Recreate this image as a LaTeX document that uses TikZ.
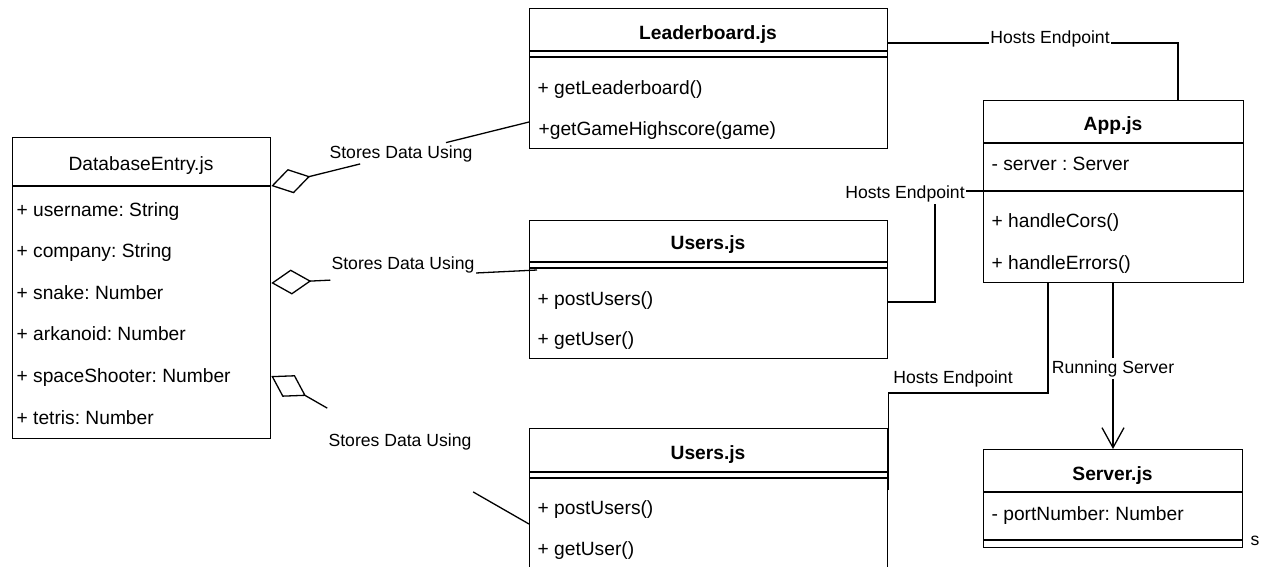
\documentclass[tikz,border=0pt]{standalone}
\usepackage{fontspec}
\setmainfont{Liberation Sans}
\usetikzlibrary{arrows.meta,calc}
\frenchspacing
\begin{document}
\begin{tikzpicture}[x=1pt,y=-1pt,line width=1.3pt,
  box/.style={draw,rectangle,inner sep=0pt,anchor=north west},
  ttl/.style={font=\fontsize{19.2}{23}\selectfont\bfseries,inner sep=0pt,anchor=base},
  ttlr/.style={font=\fontsize{19.2}{23}\selectfont,inner sep=0pt,anchor=base},
  mem/.style={font=\fontsize{19.2}{23}\selectfont,inner sep=0pt,anchor=base west},
  lab/.style={font=\fontsize{17.6}{21}\selectfont,inner xsep=1pt,inner ysep=2pt},
  wlab/.style={lab,fill=white},
  agg/.style={{Diamond[open,length=40pt,width=25pt]}-},
  runarrow/.style={-{Straight Barb[length=20pt,width=22pt]}}
]
\fill[white] (0,0) rectangle (1272,566);
\useasboundingbox (0,0) rectangle (1272,566);
\clip (0,0) rectangle (1272,566);

% ---------- DatabaseEntry.js ----------
\node[box,minimum width=258pt,minimum height=301pt] (db) at (12,137) {};
\draw (12,186) -- (270,186);
\node[ttlr] (dbT) at (141,170) {DatabaseEntry.js};
\node[mem] (dbA1) at (16,216) {+ username: String};
\node[mem] (dbA2) at (16,257.6) {+ company: String};
\node[mem] (dbA3) at (16,299.2) {+ snake: Number};
\node[mem] (dbA4) at (16,340.8) {+ arkanoid: Number};
\node[mem] (dbA5) at (16,382.4) {+ spaceShooter: Number};
\node[mem] (dbA6) at (16,424) {+ tetris: Number};

% ---------- Leaderboard.js ----------
\node[box,minimum width=358pt,minimum height=140pt] (lb) at (529,8) {};
\draw (529,51) -- (887,51);
\draw (529,57) -- (887,57);
\node[ttl] (lbT) at (708,39) {Leaderboard.js};
\node[mem] (lbM1) at (537,94) {+ getLeaderboard()};
\node[mem] (lbM2) at (538,135) {+getGameHighscore(game)};

% ---------- Users.js (1) ----------
\node[box,minimum width=358pt,minimum height=138pt] (u1) at (529,220) {};
\draw (529,262) -- (887,262);
\draw (529,268) -- (887,268);
\node[ttl] (u1T) at (708,249) {Users.js};
\node[mem] (u1M1) at (537,305) {+ postUsers()};
\node[mem] (u1M2) at (537,345) {+ getUser()};

% ---------- Users.js (2) ----------
\node[box,minimum width=358pt,minimum height=180pt] (u2) at (529,428) {};
\draw (529,472) -- (887,472);
\draw (529,478) -- (887,478);
\node[ttl] (u2T) at (708,459) {Users.js};
\node[mem] (u2M1) at (537,514) {+ postUsers()};
\node[mem] (u2M2) at (537,555) {+ getUser()};

% ---------- App.js ----------
\node[box,minimum width=260pt,minimum height=182pt] (app) at (983,100) {};
\draw (983,143) -- (1243,143);
\draw (983,191) -- (1243,191);
\node[ttl] (appT) at (1113,130) {App.js};
\node[mem] (appA1) at (991,170) {- server : Server};
\node[mem] (appM1) at (991,227) {+ handleCors()};
\node[mem] (appM2) at (991,269) {+ handleErrors()};

% ---------- Server.js ----------
\node[box,minimum width=259pt,minimum height=98pt] (srv) at (983,449) {};
\draw (983,492) -- (1242,492);
\draw (983,540) -- (1242,540);
\node[ttl] (srvT) at (1112.5,480) {Server.js};
\node[mem] (srvA1) at (991,520) {- portNumber: Number};
\node[lab] (sLbl) at (1255,540.5) {s};

% ---------- Stores Data Using (aggregations) ----------
\coordinate (s1a) at ($(db.north east)+(0,49)$);
\coordinate (s1b) at ($(lb.north west)+(0,114)$);
\draw[agg,shorten >=174pt] (s1a) -- (s1b);
\draw[shorten <=180pt] (s1a) -- (s1b);
\node[lab] (s1l) at (401,153.5) {Stores Data Using};

\coordinate (s2a) at ($(db.north east)+(0,146)$);
\coordinate (s2b) at ($(u1.north west)+(8,50)$);
\draw[agg,shorten >=207pt] (s2a) -- (s2b);
\draw[shorten <=205pt] (s2a) -- (s2b);
\node[lab] (s2l) at (403,264.5) {Stores Data Using};

\coordinate (s3a) at ($(db.north east)+(0,239)$);
\coordinate (s3b) at ($(u2.north west)+(0,96)$);
\draw[agg,shorten >=232.7pt] (s3a) -- (s3b);
\draw[shorten <=232.7pt] (s3a) -- (s3b);
\node[lab] (s3l) at (400,441.5) {Stores Data Using};

% ---------- Hosts Endpoint ----------
\coordinate (h1a) at ($(lb.north east)+(0,35)$);
\coordinate (h1b) at ($(app.north west)+(195,0)$);
\draw (h1a) -| (h1b);
\node[wlab] (h1l) at (1050,38.5) {Hosts Endpoint};

\coordinate (h2a) at ($(app.north west)+(0,91)$);
\coordinate (h2b) at ($(u1.north east)+(0,82)$);
\draw (h2a) -- ++(-48,0) |- (h2b);
\node[wlab] (h2l) at (905,193.5) {Hosts Endpoint};

\coordinate (h3a) at ($(u2.north east)+(0,62)$);
\coordinate (h3b) at ($(app.south west)+(65,0)$);
\draw (h3a) -- ++(0,-97) -| (h3b);
\node[lab] (h3l) at (953,378.5) {Hosts Endpoint};

% ---------- Running Server ----------
\coordinate (r1a) at ($(app.south west)+(130,0)$);
\coordinate (r1b) at ($(srv.north west)+(130,0)$);
\draw[runarrow] (r1a) -- (r1b);
\node[wlab] (r1l) at (1113,368.5) {Running Server};
\end{tikzpicture}
\end{document}
